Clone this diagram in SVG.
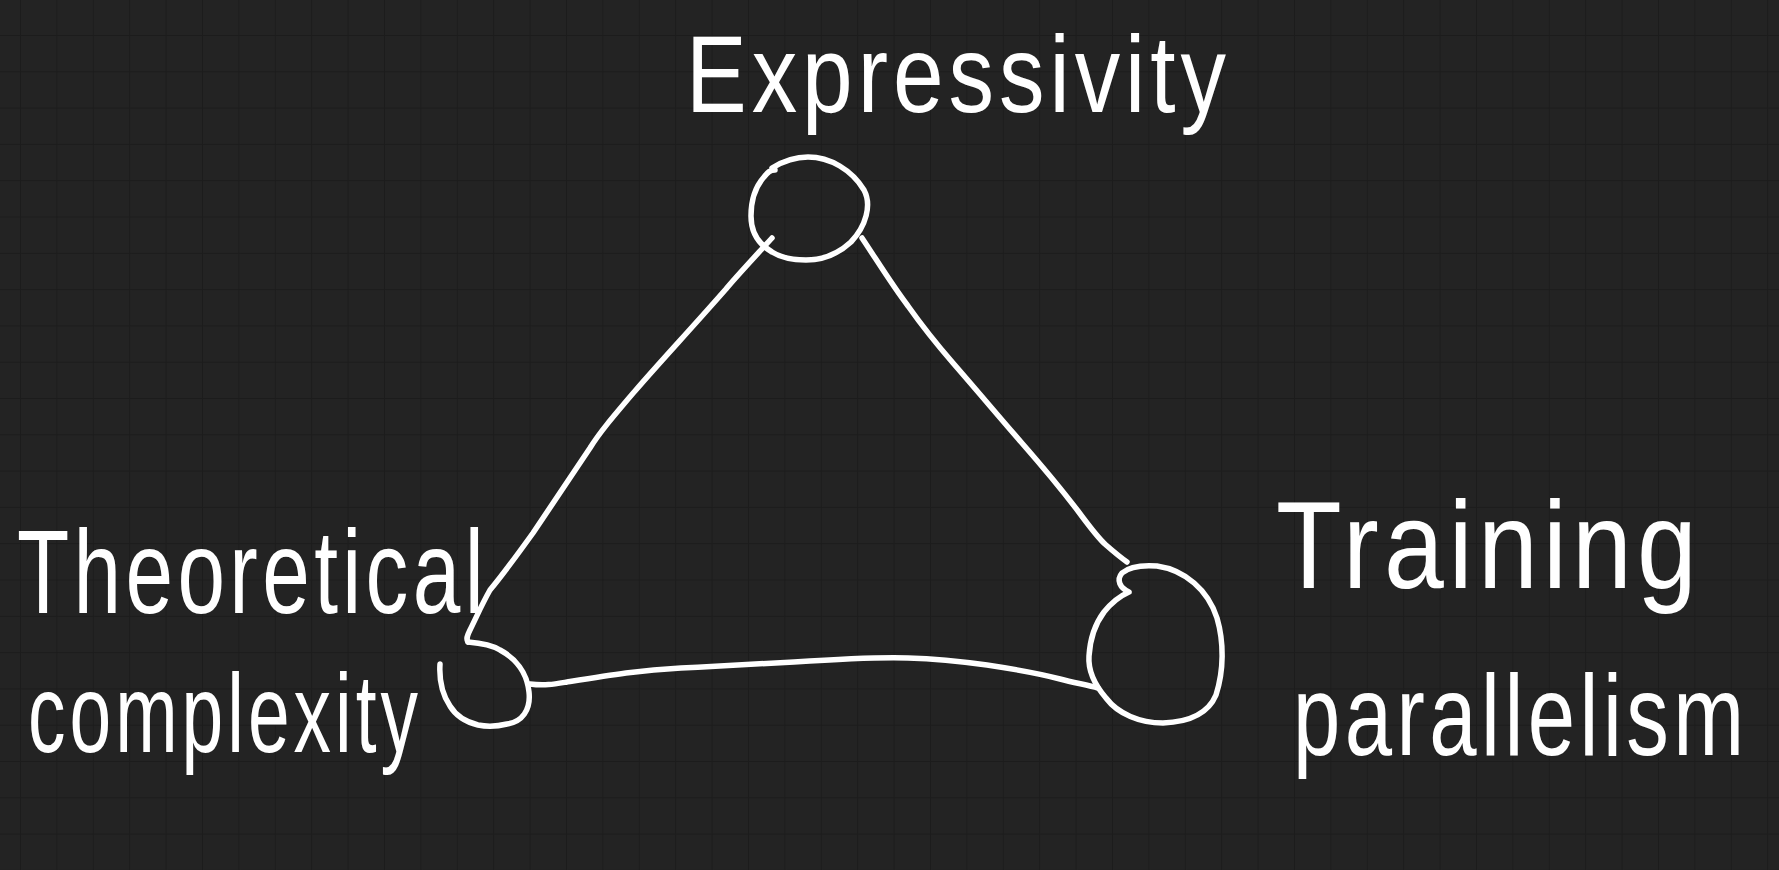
<svg xmlns="http://www.w3.org/2000/svg" width="1779" height="870" viewBox="0 0 1779 870">
<defs>
<pattern id="grid" x="20" y="35" width="36.4" height="36.3" patternUnits="userSpaceOnUse">
<path d="M0 0H36.4M0 0V36.3" fill="none" stroke="#1c1c1c" stroke-width="2"/>
</pattern>
<style>
.lbl{font-family:"Liberation Sans",Arial,sans-serif;fill:#ffffff;letter-spacing:6px}
.stroke{fill:none;stroke:#ffffff;stroke-width:5.5;stroke-linecap:round;stroke-linejoin:round}
</style>
</defs>
<rect width="1779" height="870" fill="#232323"/>
<rect width="1779" height="870" fill="url(#grid)"/>
<g id="connectors">
<path class="stroke" d="M772 238 C750 262 735 278 726 289 C690 330 660 362 635 391 C612 418 600 432 590 448 C570 478 550 508 533 533 C515 558 500 578 490 590 C482 604 476 618 470 630 C467 636 466 639 468 642"/>
<path class="stroke" d="M862 238 C878 262 892 285 908 306 C925 330 940 348 953 363 C980 394 1000 418 1021 442 C1042 466 1062 490 1078 511 C1092 530 1100 540 1106 545 C1114 552 1120 557 1127 562"/>
<path class="stroke" d="M530 684 C545 686 555 684 567 682 C610 675 640 670 681 668 C720 666 760 664 794 662 C840 659 880 657 908 658 C940 659 965 662 987 665 C1020 670 1045 675 1060 679 C1075 683 1088 685 1098 688"/>
</g>
<g id="node-expressivity">
<path class="stroke" d="M772 168 C785 160 796 157 808 157 C830 157 852 170 864 190 C872 205 866 226 851 242 C838 254 824 260 806 260 C792 260 780 257 772 252 C758 244 751 232 751 216 C751 200 756 186 764 177 C768 172 770 170 775 170"/>
<text class="lbl" x="686" y="112" font-size="110" textLength="545" lengthAdjust="spacingAndGlyphs">Expressivity</text>
</g>
<g id="node-theoretical-complexity">
<path class="stroke" d="M468 642 C480 643 492 645 500 650 C515 658 527 672 529 692 C531 710 522 722 507 724 C495 727 488 727 478 725 C466 722 456 716 450 706 C442 694 439 680 440 664"/>
<text class="lbl" x="17" y="613" font-size="118" textLength="471" lengthAdjust="spacingAndGlyphs">Theoretical</text>
<text class="lbl" x="28" y="752" font-size="112" textLength="394" lengthAdjust="spacingAndGlyphs">complexity</text>
</g>
<g id="node-training-parallelism">
<path class="stroke" d="M1129 592 C1120 588 1116 580 1122 573 C1130 566 1143 565 1157 566 C1185 570 1208 590 1217 618 C1224 642 1224 670 1216 695 C1208 714 1190 722 1163 723 C1140 723 1118 714 1106 698 C1094 684 1088 670 1089 656 C1090 640 1095 624 1104 612 C1112 602 1120 596 1129 592"/>
<text class="lbl" x="1276" y="588" font-size="125" textLength="426" lengthAdjust="spacingAndGlyphs">Training</text>
<text class="lbl" transform="translate(1293 755) scale(0.74 1)" x="0" y="0" font-size="115">parallelism</text>
</g>
</svg>
